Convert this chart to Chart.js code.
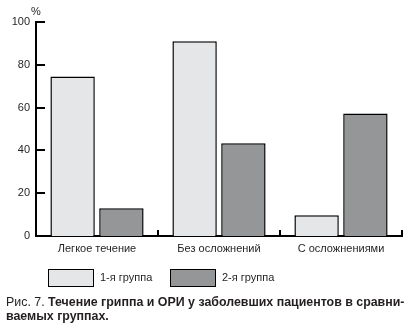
<!DOCTYPE html>
<html>
<head>
<meta charset="utf-8">
<script src="https://cdn.jsdelivr.net/npm/chart.js@4/dist/chart.umd.min.js"></script>
<style>
  html, body { margin: 0; padding: 0; background: #fff; }
  #wrap { position: relative; width: 419px; height: 330px; }
  #chart { position: absolute; left: 0; top: 0; }
  #caption {
    position: absolute; left: 6px; top: 295px; width: 410px;
    font-family: "Liberation Sans", Arial, sans-serif; font-size: 12.4px;
    line-height: 14px; color: #231f20; white-space: nowrap;
  }
  #caption b { font-weight: bold; }
</style>
</head>
<body>
<div id="wrap">
  <canvas id="chart" width="419" height="330"></canvas>
  <div id="caption">Рис. 7. <b>Течение гриппа и ОРИ у заболевших пациентов в сравни-<br>ваемых группах.</b></div>
</div>
<script>
// Course of the illness by group, % of patients
const categories = ['Легкое течение', 'Без осложнений', 'С осложнениями'];
const group1 = [74.5, 91, 9.7];
const group2 = [13, 43.3, 57.3];
const seriesNames = ['1-я группа', '2-я группа'];
const yTicks = [0, 20, 40, 60, 80, 100];

const INK = '#231f20';
const FONT = '"Liberation Sans", Arial, sans-serif';

// Short inward tick marks on both axes, the "%" unit and the legend boxes
const decorations = {
  id: 'decorations',
  afterDraw(chart) {
    const ctx = chart.ctx;
    const x = chart.scales.x, y = chart.scales.y;
    const area = chart.chartArea;
    ctx.save();
    ctx.strokeStyle = '#000';
    ctx.lineWidth = 2;
    ctx.beginPath();
    yTicks.forEach(v => {
      if (v === 0) return;
      const py = Math.round(y.getPixelForValue(v));
      ctx.moveTo(area.left, py);
      ctx.lineTo(area.left + 9, py);
    });
    for (let i = 0; i < categories.length; i++) {
      const px = Math.round(x.getPixelForValue(i) + (x.getPixelForValue(1) - x.getPixelForValue(0)) / 2);
      ctx.moveTo(px, area.bottom);
      ctx.lineTo(px, area.bottom - 6);
    }
    ctx.stroke();

    ctx.fillStyle = INK;
    ctx.font = '11px ' + FONT;
    ctx.textAlign = 'center';
    ctx.textBaseline = 'middle';
    ctx.fillText('%', area.left, 12);

    // legend
    const items = [
      { x: 48, text: seriesNames[0], color: chart.data.datasets[0].backgroundColor },
      { x: 170, text: seriesNames[1], color: chart.data.datasets[1].backgroundColor }
    ];
    items.forEach(it => {
      ctx.fillStyle = it.color;
      ctx.fillRect(it.x, 269, 45, 17);
      ctx.lineWidth = 1;
      ctx.strokeStyle = '#000';
      ctx.strokeRect(it.x + 0.5, 269.5, 45, 17);
      ctx.fillStyle = INK;
      ctx.textAlign = 'left';
      ctx.fillText(it.text, it.x + 52, 278);
    });
    ctx.restore();
  }
};

new Chart(document.getElementById('chart'), {
  type: 'bar',
  data: {
    labels: categories,
    datasets: [
      { label: seriesNames[0], data: group1, backgroundColor: '#e5e6e8', borderColor: '#000', borderWidth: 1.5 },
      { label: seriesNames[1], data: group2, backgroundColor: '#959698', borderColor: '#000', borderWidth: 1.5 }
    ]
  },
  options: {
    responsive: false,
    animation: false,
    datasets: { bar: { categoryPercentage: 0.80, barPercentage: 0.91 } },
    layout: { padding: { left: 0, right: 17, top: 22, bottom: 74 } },
    plugins: { legend: { display: false }, tooltip: { enabled: false } },
    scales: {
      x: {
        afterFit(s) { s.height = 20; },
        grid: { display: false, drawTicks: false },
        border: { display: true, color: '#000', width: 2 },
        ticks: { color: INK, padding: 6, font: { family: FONT, size: 11 } }
      },
      y: {
        min: 0, max: 100,
        afterFit(s) { s.width = 36; },
        afterBuildTicks(s) { s.ticks = yTicks.map(v => ({ value: v })); },
        grid: { display: false, drawTicks: false },
        border: { display: true, color: '#000', width: 2 },
        ticks: { color: INK, padding: 6, font: { family: FONT, size: 11 } }
      }
    }
  },
  plugins: [decorations]
});
</script>
</body>
</html>
